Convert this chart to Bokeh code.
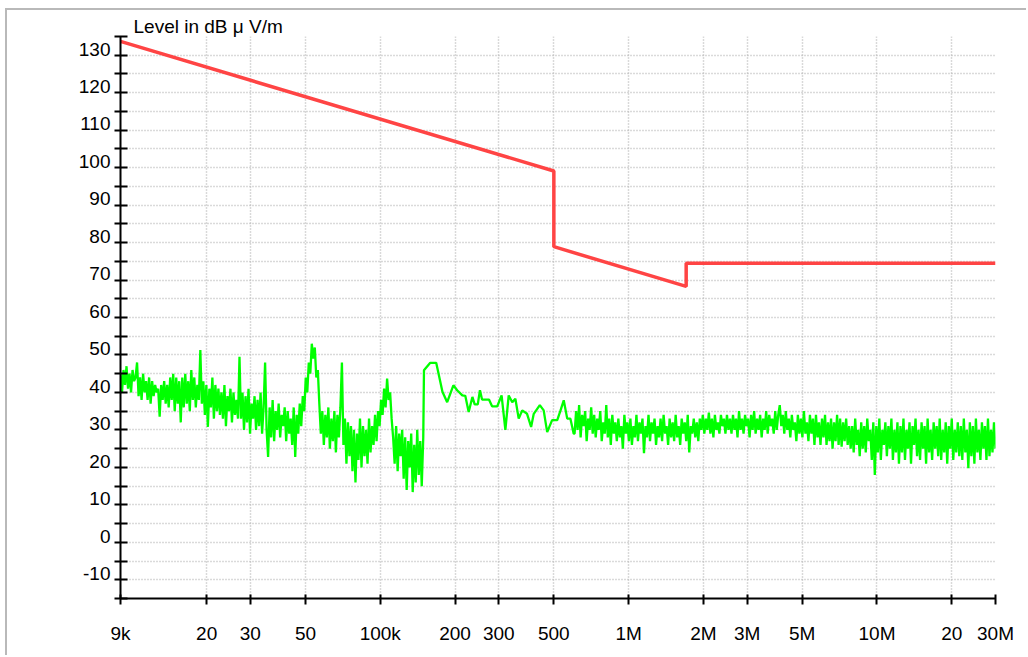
import numpy as np
from bokeh.plotting import figure
from bokeh.models import FixedTicker, Range1d, LinearAxis
from bokeh.embed import file_html
from bokeh.resources import INLINE

# ---------------- data ----------------
x_tick_freqs = [9000, 20000, 30000, 50000, 100000, 200000, 300000, 500000,
                1000000, 2000000, 3000000, 5000000, 10000000, 20000000, 30000000]
x_tick_labels = ["9k", "20", "30", "50", "100k", "200", "300", "500",
                 "1M", "2M", "3M", "5M", "10M", "20", "30M"]
y_tick_values = [-10, 0, 10, 20, 30, 40, 50, 60, 70, 80, 90, 100, 110, 120, 130]
y_tick_labels = ["-10", "0", "10", "20", "30", "40", "50", "60", "70", "80", "90",
                 "100", "110", "120", "130"]
y_grid_values = [-15, -10, -5, 0, 5, 10, 15, 20, 25, 30, 35, 40, 45, 50, 55, 60, 65,
                 70, 75, 80, 85, 90, 95, 100, 105, 110, 115, 120, 125, 130, 135]

# limit line (dBuV/m)
limit_freq = [9e3, 5e5, 5e5, 1.705e6, 1.705e6, 3e7]
limit_level = [133.7, 99.1, 78.9, 68.3, 74.5, 74.5]

# measured trace, part A: 9 kHz .. 149 kHz sweep (dense)
scanA_start, scanA_stop = 9e3, 1.49e5
scanA_level = [45, 40, 46, 42, 47, 41, 45, 40, 46, 43, 44,
               48, 39, 44, 38, 45, 40, 43,
               38, 44, 37, 43, 39, 42, 40,
               41, 33.5, 42, 38, 43, 37, 42,
               36, 44, 38, 45, 35, 44, 37, 43, 32,
               44, 36, 45, 37, 43, 35, 46, 38, 44, 36, 42, 38, 51.3,
               37, 43, 34, 42, 30.8, 41, 36, 44, 33, 42, 35, 41, 34,
               40, 33, 42, 31, 39, 35, 41, 32, 40, 34, 38, 33, 49.5,
               33, 40, 30, 39, 32, 41, 29, 37, 33, 39, 30, 38, 31, 40, 29, 36, 48,
               30, 22.8, 36, 28, 38, 27, 35, 30, 37, 28, 34, 31, 36, 27, 35, 29, 33, 26, 36, 22.8, 34, 29, 37,
               31, 39, 35, 44, 40, 48, 45, 53, 49, 52, 44, 46, 37,
               29, 35, 26, 34, 28, 36, 25, 33, 27, 35, 24, 34, 28, 36, 48,
               26, 33, 21, 32, 23, 31, 19, 30, 16, 29, 22, 33, 20, 31, 23, 30, 21, 33, 24, 31, 26, 34, 27, 35,
               31, 38, 34, 41, 36, 43.7, 38, 40, 33,
               28, 21, 31, 19, 29, 23, 30, 17, 28, 14, 27, 20, 29, 13.4, 26, 16, 30, 18, 27, 15, 28]

# part B: 150 kHz .. 600 kHz (sparser)
scanB_freq = [150e3, 159e3, 168e3, 178e3, 186e3, 197e3, 204e3, 214e3, 220e3, 227e3,
              235e3, 240e3, 247e3, 252e3, 257e3, 274e3, 282e3, 296e3, 308e3, 319e3,
              329e3, 340e3, 350e3, 361e3, 373e3, 390e3, 405e3, 415e3, 439e3, 455e3,
              470e3, 492e3, 516e3, 532e3, 548e3, 566e3, 583e3, 601e3]
scanB_level = [45.9, 47.9, 47.9, 40.2, 37.4, 41.9, 40.6, 39.2, 39.1, 34.8,
               38.8, 36.8, 36.8, 40.6, 38.1, 38.1, 36.3, 36.3, 39.2, 30.0,
               39.2, 37.4, 38.3, 33.0, 35.2, 34.3, 30.8, 34.3, 36.6, 35.2,
               29.4, 32.6, 32.6, 35.2, 37.9, 33.0, 33.0, 29.0]

# part C: 606 kHz .. 30 MHz sweep (dense)
scanC_start, scanC_stop = 6.06e5, 3e7
scanC_level = [29, 35, 30, 36.6, 28, 34, 31, 35, 27, 33, 30, 36, 29, 34, 28, 33, 30,
               35, 27, 32, 29, 36.6, 28, 33, 26, 34, 29, 32, 27, 33, 28, 31, 25, 34, 29, 32, 27,
               33, 26, 31, 28, 34, 27, 32, 29, 33, 23.8, 31, 28, 34, 27, 32, 29, 33, 26, 31, 28,
               33, 27, 34, 29, 31, 26, 33, 28, 32, 27, 34, 28, 31, 26, 33, 29, 32, 27, 34, 24,
               31, 29, 33, 28, 32, 27, 33,
               30, 34, 29, 33, 30, 34.6, 29, 33, 28, 34, 30, 32, 29, 34, 31, 33, 29, 34, 30, 33,
               29, 34, 30, 33, 28, 35, 30, 33, 29, 34, 31, 33, 28, 34, 30, 35, 29, 33, 30, 34,
               28, 33, 30, 35, 29, 34, 31, 33, 29, 35, 30, 34, 36.6,
               31, 34, 29, 35, 30, 33, 28, 34, 30, 32, 27, 34, 29, 33, 28, 35, 29, 32, 27, 34,
               29, 33, 26, 34, 28, 32, 26, 33, 28, 34, 26, 32, 27, 33, 25, 32, 27, 34, 26, 33,
               25.5, 32, 27, 33, 26, 31, 25,
               31, 24, 33, 26, 30, 23, 32, 25, 31, 24, 33, 27, 30, 22, 32, 18, 31, 24, 33, 22,
               30, 26, 32, 23, 31, 25, 33, 22, 30, 24, 32, 21, 31,
               24, 33, 22, 30, 25, 32, 21, 31, 26, 33, 23, 30, 22, 32, 25, 31, 21, 33, 24, 30,
               22, 32, 25, 31, 23, 33, 22, 30, 24, 32, 21, 31, 25, 33, 22, 30, 24, 32, 23, 31,
               22, 33, 24, 30, 19.8, 32, 23, 31, 21, 33, 24, 30, 22, 32, 25, 31, 22, 33, 23, 30,
               24, 32, 25]

title_text = "Level in dB \u03bc V/m"

# ---------------- build ----------------
FONT = "Liberation Sans"
FS = "19px"
LAB_SHIFT = 1.65   # y labels sit just above their tick (in dB)

scan_freq = np.concatenate([
    np.geomspace(scanA_start, scanA_stop, len(scanA_level)),
    np.array(scanB_freq),
    np.geomspace(scanC_start, scanC_stop, len(scanC_level)),
])
scan_level = np.concatenate([scanA_level, scanB_level, scanC_level])

p = figure(width=1021, height=647, x_axis_type="log",
           x_range=Range1d(9000, 30000000), y_range=Range1d(-15, 135),
           output_backend="svg", toolbar_location=None, title=title_text,
           min_border_left=113, min_border_right=33,
           min_border_top=26, min_border_bottom=59)
p.styles = {"margin-left": "5px", "margin-top": "8px",
            "border-left": "2px solid #b9b9b9", "border-top": "2px solid #b9b9b9"}
p.outline_line_color = None
p.background_fill_color = "white"
p.border_fill_color = "white"

p.title.align = "left"
p.title.offset = 13
p.title.standoff = 0
p.title.text_font = FONT
p.title.text_font_size = FS
p.title.text_font_style = "normal"
p.title.text_color = "black"

# x axis
xa = p.xaxis[0]
xa.ticker = FixedTicker(ticks=x_tick_freqs, minor_ticks=[])
xa.major_label_overrides = dict(zip(x_tick_freqs, x_tick_labels))
xa.major_tick_in = 4
xa.major_tick_out = 6
xa.major_label_standoff = 18

# y axis (ticks + line)
ya = p.yaxis[0]
ya.ticker = FixedTicker(ticks=y_grid_values, minor_ticks=[])
ya.major_label_overrides = {v: "" for v in y_grid_values}
ya.major_label_text_font_size = "0px"
ya.major_label_standoff = 0
ya.major_tick_in = 7
ya.major_tick_out = 6

for ax in (xa, ya):
    ax.axis_line_width = 2
    ax.axis_line_color = "black"
    ax.major_tick_line_width = 2
    ax.major_tick_line_color = "black"
    ax.minor_tick_line_color = None
    ax.major_label_text_font = FONT
    ax.major_label_text_color = "black"
xa.major_label_text_font_size = FS

# y labels: separate axis on a range shifted so labels sit on their ticks
p.extra_y_ranges = {"lab": Range1d(-15 - LAB_SHIFT, 135 - LAB_SHIFT)}
la = LinearAxis(y_range_name="lab", ticker=FixedTicker(ticks=y_tick_values, minor_ticks=[]),
                major_label_overrides=dict(zip(y_tick_values, y_tick_labels)),
                axis_line_color=None, major_tick_line_color=None, minor_tick_line_color=None,
                major_tick_in=0, major_tick_out=0, major_label_standoff=4,
                major_label_text_font=FONT, major_label_text_font_size=FS,
                major_label_text_color="black")
p.add_layout(la, "left")

p.grid.grid_line_color = "#b4b4b4"
p.grid.grid_line_dash = "1 2"
p.grid.grid_line_width = 1.5

# lines
p.line(scan_freq, scan_level, line_color="#00ff00", line_width=2.3)
p.line(limit_freq, limit_level, line_color="#ff4444", line_width=3.5)

open("out.html", "w").write(file_html(p, INLINE))
